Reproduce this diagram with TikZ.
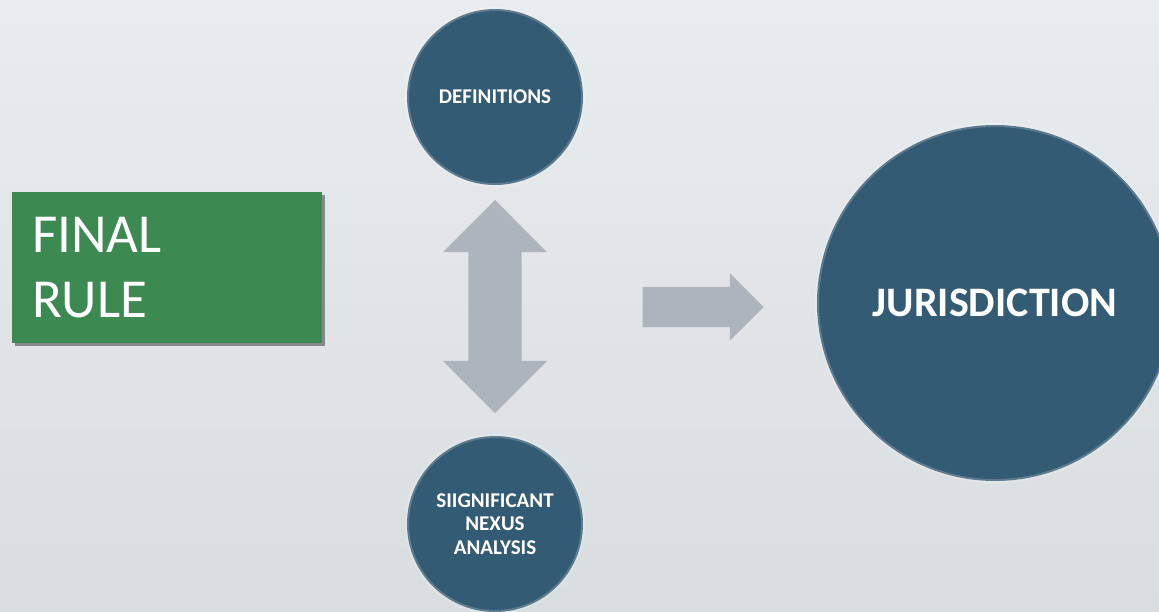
\documentclass[tikz,border=0pt]{standalone}
\usepackage{fontspec}
\setmainfont{Carlito}
\usepackage{xcolor}
\usepackage{tikz}
\usetikzlibrary{positioning,shapes.arrows,shadows}

\definecolor{bgtop}{HTML}{E9ECEE}
\definecolor{bgbot}{HTML}{D8DDE0}
\definecolor{circblue}{HTML}{345B74}
\definecolor{rulegreen}{HTML}{3D8952}
\definecolor{arrgray}{HTML}{ADB4BC}

\begin{document}
\begin{tikzpicture}[
    x=1pt,y=-1pt,
    rulebox/.style={fill=rulegreen,text=white,align=left,text width=270pt,inner xsep=20pt,
      inner ysep=0pt,minimum height=151pt,font=\fontsize{55}{65}\selectfont,
      drop shadow={shadow xshift=3pt,shadow yshift=-3pt,opacity=0.4,fill=black}},
    circ/.style={circle,fill=circblue,draw=white,draw opacity=0.2,line width=4pt,
      inner sep=0pt,text=white,align=center},
    smallcirc/.style={circ,minimum size=176pt,font=\bfseries\fontsize{21}{23.5}\selectfont},
    bigcirc/.style={circ,minimum size=356pt,font=\bfseries\fontsize{42}{48}\selectfont},
    blockarr/.style={fill=arrgray,inner xsep=0pt}
  ]
    \useasboundingbox (0,0) rectangle (1159,611);
    \clip (0,0) rectangle (1159,611);
    \shade[top color=bgtop,bottom color=bgbot] (0,0) rectangle (1159,611);

    \node[rulebox] (rule) at (167,267.5) {FINAL\\RULE};
    \node[smallcirc] (defs) at (495,97) {DEFINITIONS};
    \node[smallcirc,below=247pt of defs] (nexus) {SIIGNIFICANT\\NEXUS\\ANALYSIS};
    \node[bigcirc] (juris) at (995,303) {JURISDICTION};

    % block arrows between the circles
    \node[blockarr,double arrow,rotate=90,inner ysep=26.5pt,minimum height=213pt,
      double arrow head extend=25.5pt] (updown) at (495,306.5) {};
    \node[blockarr,single arrow,inner ysep=20pt,minimum height=121pt,
      single arrow head extend=13.5pt] (toright) at (693,307) {};
  \end{tikzpicture}
\end{document}
